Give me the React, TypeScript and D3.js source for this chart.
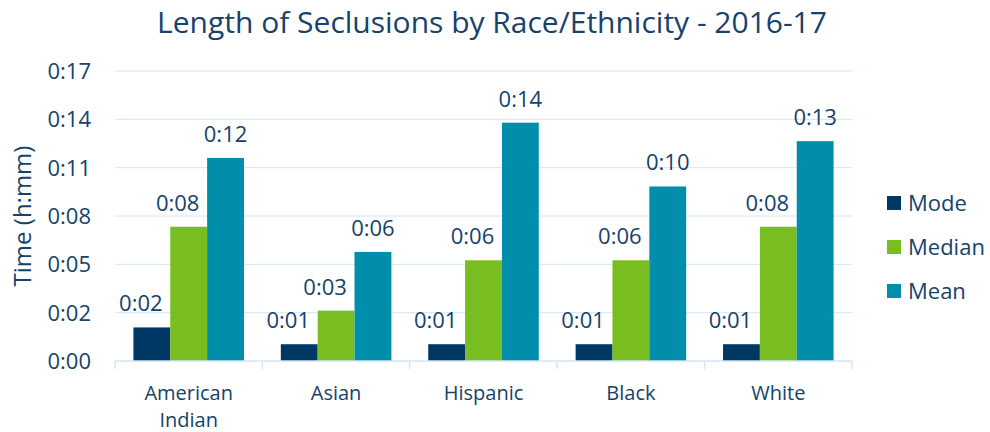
import React from "react";
import * as d3 from "d3";

const categories = ["American Indian", "Asian", "Hispanic", "Black", "White"];
const seriesNames = ["Mode", "Median", "Mean"];
// values in minutes
const modeValues = [2.0, 1.0, 1.0, 1.0, 1.0];
const medianValues = [8.0, 3.0, 6.0, 6.0, 8.0];
const meanValues = [12.1, 6.5, 14.2, 10.4, 13.1];
const yTicks = [0, 2.88, 5.76, 8.64, 11.52, 14.4, 17.28];
const colors = ["#003865", "#78be20", "#008eaa"];
const labelShift = [-11, -11, 0];
const title = "Length of Seclusions by Race/Ethnicity - 2016-17";

const W = 990;
const H = 432;
const textColor = "#15436b";
const gridColor = "#d3e6f6";
const font = "'Open Sans', sans-serif";

function fmt(v: number) {
  const m = Math.floor(v + 1e-6);
  const h = Math.floor(m / 60);
  return `${h}:${String(m % 60).padStart(2, "0")}`;
}

export default function App() {
  const series = [modeValues, medianValues, meanValues];
  const x0 = d3.scaleBand<string>().domain(categories).range([115, 852]).paddingInner(0).paddingOuter(0);
  const x1 = d3.scaleBand<string>().domain(seriesNames).range([0, x0.bandwidth()]).paddingInner(0).paddingOuter(0.5);
  const y = d3.scaleLinear().domain([0, 17.28]).range([361, 71]);

  const boundaries = [...categories.map((c) => x0(c) as number), 852];

  return (
    <svg width={W} height={H} style={{ position: "absolute", left: 0, top: 0, background: "#fff" }} fontFamily={font}>
      <text x={492} y={33} textAnchor="middle" fontSize={30} fill={textColor}>
        {title}
      </text>
      {yTicks.slice(1).map((t) => (
        <line key={t} x1={115} x2={852} y1={y(t)} y2={y(t)} stroke={gridColor} strokeWidth={1} />
      ))}
      {yTicks.map((t) => (
        <text key={"l" + t} x={91} y={y(t)} dy="0.36em" textAnchor="end" fontSize={22} fill={textColor}>
          {fmt(t)}
        </text>
      ))}
      <text transform={`translate(31,216) rotate(-90)`} textAnchor="middle" fontSize={24} fill={textColor}>
        Time (h:mm)
      </text>
      {categories.map((c, ci) => (
        <g key={c} transform={`translate(${x0(c)},0)`}>
          {seriesNames.map((s, si) => {
            const v = series[si][ci];
            const bx = x1(s) as number;
            return <rect key={s} x={bx} y={y(v)} width={x1.bandwidth()} height={y(0) - y(v)} fill={colors[si]} />;
          })}
        </g>
      ))}
      {categories.map((c, ci) => (
        <g key={"dl" + c} transform={`translate(${x0(c)},0)`}>
          {seriesNames.map((s, si) => {
            const v = series[si][ci];
            const bx = x1(s) as number;
            return (
              <text
                key={s}
                x={bx + x1.bandwidth() / 2 + labelShift[si]}
                y={y(v) - 16}
                textAnchor="middle"
                fontSize={22}
                fill={textColor}
              >
                {fmt(v)}
              </text>
            );
          })}
        </g>
      ))}
      <line x1={115} x2={852} y1={361} y2={361} stroke={gridColor} strokeWidth={1.5} />
      {boundaries.map((b, i) => (
        <line key={"t" + i} x1={b} x2={b} y1={361} y2={369} stroke={gridColor} strokeWidth={1.5} />
      ))}
      {categories.map((c) => {
        const words = c.split(" ");
        const cx = (x0(c) as number) + x0.bandwidth() / 2;
        return (
          <text key={"c" + c} x={cx} y={400} textAnchor="middle" fontSize={20} fill={textColor}>
            {words.map((w, i) => (
              <tspan key={w} x={cx} y={400 + i * 27}>
                {w}
              </tspan>
            ))}
          </text>
        );
      })}
      {seriesNames.map((s, i) => (
        <g key={"lg" + s} transform={`translate(887,${203 + i * 44})`}>
          <rect x={0} y={-7} width={14} height={14} fill={colors[i]} />
          <text x={21} y={0} dy="0.36em" fontSize={22} fill={textColor}>
            {s}
          </text>
        </g>
      ))}
    </svg>
  );
}
